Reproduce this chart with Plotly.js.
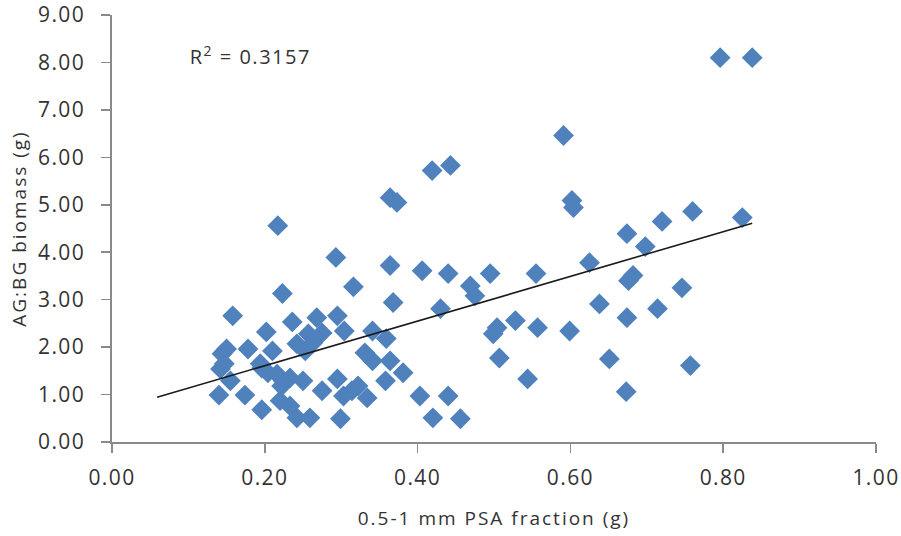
<!DOCTYPE html>
<html>
<head>
<meta charset="utf-8">
<script src="https://cdn.plot.ly/plotly-3.0.1.min.js"></script>
<style>
html,body{margin:0;padding:0;background:#fff;}
#chart .xtick text, #chart .ytick text {letter-spacing:1.4px;}
#chart .g-xtitle text, #chart .g-ytitle text {letter-spacing:2px;}
#chart .annotation-text {letter-spacing:1.5px;}
</style>
</head>
<body>
<div id="chart" style="width:901px;height:536px;"></div>
<script>
// 0.5-1 mm PSA fraction (g)
const psaFraction = [
0.140,0.142,0.144,0.147,0.150,0.155,0.158,0.174,0.178,0.194,
0.196,0.196,0.202,0.204,0.210,0.216,0.217,0.220,0.222,0.223,
0.224,0.233,0.233,0.236,0.242,0.242,0.250,0.253,0.257,0.259,
0.263,0.268,0.275,0.275,0.293,0.295,0.295,0.299,0.303,0.304,
0.314,0.316,0.322,0.331,0.334,0.341,0.341,0.358,0.359,0.364,
0.364,0.364,0.368,0.373,0.381,0.403,0.406,0.419,0.420,0.430,
0.440,0.440,0.443,0.456,0.469,0.475,0.495,0.499,0.504,0.507,
0.528,0.544,0.555,0.557,0.591,0.599,0.602,0.604,0.625,0.638,
0.651,0.673,0.674,0.674,0.676,0.682,0.698,0.714,0.720,0.746,
0.757,0.760,0.796,0.825,0.838
];
// AG:BG biomass (g)
const agbgBiomass = [
0.99,1.54,1.86,1.65,1.96,1.29,2.66,0.99,1.96,1.65,
0.68,1.56,2.32,1.46,1.92,1.43,4.56,0.87,1.18,3.13,
1.29,0.76,1.35,2.53,2.07,0.51,1.29,1.92,2.28,0.51,
2.09,2.62,2.30,1.08,3.89,2.66,1.33,0.49,0.97,2.34,
1.08,3.27,1.18,1.88,0.93,2.34,1.71,1.29,2.18,5.15,
3.72,1.71,2.94,5.05,1.46,0.97,3.61,5.72,0.51,2.81,
3.55,0.97,5.83,0.49,3.29,3.08,3.55,2.28,2.41,1.77,
2.56,1.33,3.55,2.41,6.46,2.34,5.09,4.94,3.78,2.91,
1.75,1.06,4.39,2.62,3.40,3.51,4.12,2.81,4.65,3.25,
1.61,4.86,8.10,4.73,8.10
];
const xTickVals = [0,0.2,0.4,0.6,0.8,1.0];
const xTickText = ["0.00","0.20","0.40","0.60","0.80","1.00"];
const yTickVals = [0,1,2,3,4,5,6,7,8,9];
const yTickText = ["0.00","1.00","2.00","3.00","4.00","5.00","6.00","7.00","8.00","9.00"];
const trendRange = [0.059, 0.838];
const rSquaredText = "R<sup>2</sup> = 0.3157";

// least-squares trend line
const n = psaFraction.length;
let sx=0, sy=0, sxx=0, sxy=0;
for (let i=0;i<n;i++){ sx+=psaFraction[i]; sy+=agbgBiomass[i]; sxx+=psaFraction[i]*psaFraction[i]; sxy+=psaFraction[i]*agbgBiomass[i]; }
const slope = (n*sxy - sx*sy)/(n*sxx - sx*sx);
const intercept = (sy - slope*sx)/n;
const trendY = trendRange.map(x => intercept + slope*x);

const font = "'Open Sans', Lato, sans-serif";
const txt = '#333333';
const data = [
  {x: psaFraction, y: agbgBiomass, type:'scatter', mode:'markers',
   marker:{symbol:'diamond', size:16, color:'#4f81bd', line:{width:0}}, hoverinfo:'skip'},
  {x: trendRange, y: trendY, type:'scatter', mode:'lines',
   line:{color:'#1a1a1a', width:1.6}, hoverinfo:'skip'}
];
const axisCommon = {showgrid:false, zeroline:false, showline:true, linecolor:'#8a8a8a', linewidth:1.6,
  ticks:'outside', ticklen:9, tickcolor:'#8a8a8a', tickwidth:1.6,
  tickfont:{family:font, size:21, color:txt}};
const layout = {
  width:901, height:536, showlegend:false,
  paper_bgcolor:'#fff', plot_bgcolor:'#fff',
  margin:{l:112, r:25, t:15, b:94},
  xaxis: Object.assign({}, axisCommon, {range:[0,1], tickvals:xTickVals, ticktext:xTickText,
    ticklabelstandoff:7,
    title:{text:'0.5-1 mm PSA fraction (g)', font:{family:font, size:19, color:txt}, standoff:22}}),
  yaxis: Object.assign({}, axisCommon, {range:[0,9], tickvals:yTickVals, ticktext:yTickText,
    ticklabelstandoff:12,
    title:{text:'AG:BG biomass (g)', font:{family:font, size:19, color:txt}, standoff:12}}),
  annotations:[{x:0.11, y:8.15, xref:'x', yref:'y', xanchor:'left', yanchor:'middle',
    text:rSquaredText, showarrow:false, font:{family:font, size:20, color:txt}}]
};
Plotly.newPlot('chart', data, layout, {staticPlot:true, displayModeBar:false});
</script>
</body>
</html>
